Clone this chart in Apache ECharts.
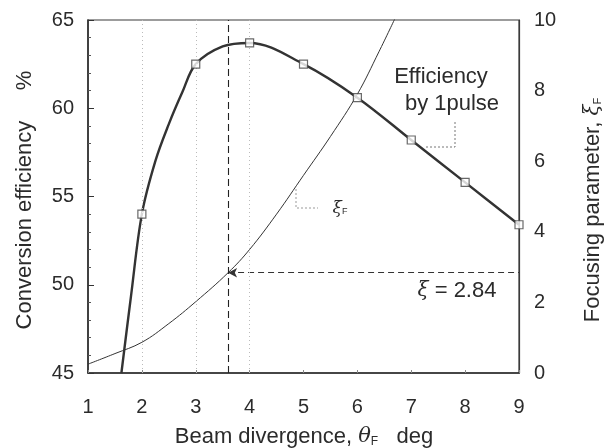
<!DOCTYPE html>
<html><head><meta charset="utf-8">
<script src="https://cdn.jsdelivr.net/npm/echarts@6/dist/echarts.min.js"></script>
<style>html,body{margin:0;padding:0;background:#fff}#c{width:608px;height:448px}</style>
</head><body><div id="c"></div>
<script>
// ---- data ----
const xTicks = [1, 2, 3, 4, 5, 6, 7, 8, 9];
const effCurveTheta = [1.62, 1.8, 2, 2.25, 2.5, 2.75, 3, 3.5, 4, 5, 6, 7, 8, 9];
const effCurveValue = [45, 49.4, 54.0, 57.0, 59.1, 60.9, 62.5, 63.5, 63.7, 62.5, 60.6, 58.2, 55.8, 53.4];
const effMarkTheta = [2, 3, 4, 5, 6, 7, 8, 9];
const effMarkValue = [54.0, 62.5, 63.7, 62.5, 60.6, 58.2, 55.8, 53.4];
const xiTheta = [1, 1.5, 2, 2.5, 3, 3.6, 4, 4.5, 5, 5.5, 6, 6.4, 6.7];
const xiValue = [0.25, 0.55, 0.87, 1.4, 2.02, 2.84, 3.5, 4.5, 5.6, 6.7, 7.9, 9.1, 10.05];
const optTheta = 3.6;
const optXi = 2.84;
const gridTheta = [2, 3, 4];

const FONT = 'Liberation Sans, Arial, Helvetica, sans-serif';
const TXT = '#2b2b2b';
const chart = echarts.init(document.getElementById('c'), null, {renderer: 'canvas'});

const effCurve = effCurveTheta.map((t, i) => [t, effCurveValue[i]]);
const effMarks = effMarkTheta.map((t, i) => [t, effMarkValue[i]]);
const xiCurve = xiTheta.map((t, i) => [t, xiValue[i]]);

chart.setOption({
  animation: false,
  backgroundColor: '#fff',
  grid: {left: 88, right: 89, top: 20, bottom: 75, show: true, borderColor: '#3a3a3a', borderWidth: 1.2},
  xAxis: {
    type: 'value', min: 1, max: 9, interval: 1,
    axisLine: {show: true, onZero: false, lineStyle: {color: '#2a2a2a', width: 1.5}},
    axisTick: {show: true, inside: true, length: 3, lineStyle: {color: '#888'}},
    splitLine: {show: false},
    axisLabel: {color: TXT, fontFamily: FONT, fontSize: 20, margin: 24}
  },
  yAxis: [{
    type: 'value', min: 45, max: 65, interval: 5,
    axisLine: {show: true, lineStyle: {color: '#2a2a2a', width: 1.5}},
    axisTick: {show: true, inside: true, length: 6, lineStyle: {color: '#333'}},
    minorTick: {show: true, splitNumber: 5, length: 3, lineStyle: {color: '#555'}},
    splitLine: {show: false},
    axisLabel: {color: TXT, fontFamily: FONT, fontSize: 20, margin: 14}
  }, {
    type: 'value', min: 0, max: 10, interval: 2, position: 'right',
    axisLine: {show: true, lineStyle: {color: '#3a3a3a', width: 1.2}},
    axisTick: {show: false},
    splitLine: {show: false},
    axisLabel: {color: TXT, fontFamily: FONT, fontSize: 20, margin: 15}
  }],
  series: [
    {
      type: 'line', yAxisIndex: 1, data: xiCurve, smooth: 0.4, symbol: 'none', clip: true,
      lineStyle: {color: '#333', width: 1},
      markLine: {
        silent: true, symbol: ['arrow', 'none'], symbolSize: [7, 9],
        label: {show: false},
        lineStyle: {color: '#333', type: [6, 4], width: 1},
        data: [[{coord: [optTheta, optXi]}, {coord: [9, optXi]}]]
      }
    },
    {
      type: 'line', yAxisIndex: 0, data: effCurve, smooth: 0.35, symbol: 'none', clip: true,
      lineStyle: {color: '#333', width: 2.4},
      markLine: {
        silent: true, symbol: 'none', label: {show: false},
        lineStyle: {color: '#222', type: [7, 4], width: 1.1},
        data: [{xAxis: optTheta}]
      }
    },
    {
      type: 'scatter', yAxisIndex: 0, data: effMarks, symbol: 'rect', symbolSize: 8,
      itemStyle: {color: '#fff', borderColor: '#444', borderWidth: 1.2}, z: 5,
      markLine: {
        silent: true, symbol: 'none', label: {show: false},
        lineStyle: {color: '#bbb', type: [1, 3], width: 1},
        data: gridTheta.map(v => ({xAxis: v}))
      }
    }
  ],
  graphic: [
    {type: 'text', x: 25, y: 200, rotation: Math.PI / 2,
     style: {text: 'Conversion efficiency     %', fill: TXT, font: '22px ' + FONT, textAlign: 'center', textVerticalAlign: 'middle'}},
    {type: 'text', x: 593, y: 210, rotation: Math.PI / 2,
     style: {text: '{n|Focusing parameter, }{x|ξ}{s|F}', fill: TXT, textAlign: 'center', textVerticalAlign: 'middle',
       rich: {n: {font: '22px ' + FONT, fill: TXT}, x: {font: 'italic 20px DejaVu Serif, serif', fill: TXT}, s: {font: '11px ' + FONT, fill: TXT, padding: [9, 0, 0, 0]}}}},
    {type: 'text', x: 304, y: 437,
     style: {text: '{n|Beam divergence, }{x|θ}{s|F}{n|   deg}', fill: TXT, textAlign: 'center', textVerticalAlign: 'middle',
       rich: {n: {font: '22px ' + FONT, fill: TXT}, x: {font: 'italic 21px DejaVu Serif, serif', fill: TXT}, s: {font: '12px ' + FONT, fill: TXT, padding: [10, 0, 0, 0]}}}},
    {type: 'text', x: 441, y: 77,
     style: {text: 'Efficiency', fill: TXT, font: '22px ' + FONT, textAlign: 'center', textVerticalAlign: 'middle'}},
    {type: 'text', x: 452, y: 104,
     style: {text: 'by 1pulse', fill: TXT, font: '22px ' + FONT, textAlign: 'center', textVerticalAlign: 'middle'}},
    {type: 'polyline', shape: {points: [[455, 122], [455, 147], [424, 147]]},
     style: {stroke: '#777', lineWidth: 1, lineDash: [2, 2], fill: null}},
    {type: 'polyline', shape: {points: [[296, 189], [296, 208], [318, 208]]},
     style: {stroke: '#999', lineWidth: 1, lineDash: [2, 2], fill: null}},
    {type: 'text', x: 340, y: 209,
     style: {text: '{x|ξ}{s|F}', fill: TXT, textAlign: 'center', textVerticalAlign: 'middle',
       rich: {x: {font: 'italic 17px DejaVu Serif, serif', fill: TXT}, s: {font: '9px ' + FONT, fill: TXT, padding: [6, 0, 0, 0]}}}},
    {type: 'text', x: 457, y: 291,
     style: {text: '{x|ξ}{n| = 2.84}', fill: TXT, textAlign: 'center', textVerticalAlign: 'middle',
       rich: {n: {font: '22px ' + FONT, fill: TXT}, x: {font: 'italic 20px DejaVu Serif, serif', fill: TXT}}}}
  ]
});
</script></body></html>
